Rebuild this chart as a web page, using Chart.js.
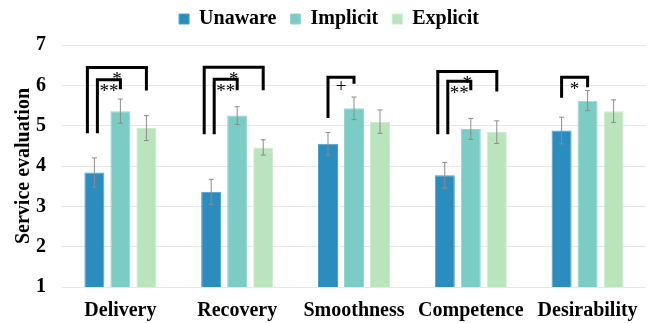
<!DOCTYPE html>
<html>
<head>
<meta charset="utf-8">
<script src="https://cdn.jsdelivr.net/npm/chart.js@4"></script>
<style>
  html, body { margin: 0; padding: 0; background: #fff; }
  #wrap { width: 652px; height: 323px; }
</style>
</head>
<body>
<div id="wrap"><canvas id="chart"></canvas></div>
<script>
const categories = ["Delivery", "Recovery", "Smoothness", "Competence", "Desirability"];
const seriesNames = ["Unaware", "Implicit", "Explicit"];
const unaware = [3.84, 3.36, 4.55, 3.77, 4.88];
const implicit = [5.36, 5.25, 5.43, 4.92, 5.62];
const explicit = [4.94, 4.46, 5.10, 4.84, 5.36];
const unawareErr = [0.36, 0.31, 0.28, 0.32, 0.33];
const implicitErr = [0.30, 0.22, 0.28, 0.26, 0.25];
const explicitErr = [0.31, 0.19, 0.29, 0.28, 0.28];
const yTicks = [1, 2, 3, 4, 5, 6, 7];

// significance brackets: category, series pair, top value, leg ends, label
const brackets = [
  { cat: 0, from: 0, to: 2, level: "outer", top: 6.44, leftEnd: 4.81, rightEnd: 5.87, label: "*" },
  { cat: 0, from: 0, to: 1, level: "inner", top: 6.14, leftEnd: 4.81, rightEnd: 5.90, label: "**" },
  { cat: 1, from: 0, to: 2, level: "outer", top: 6.45, leftEnd: 4.79, rightEnd: 5.88, label: "*" },
  { cat: 1, from: 0, to: 1, level: "inner", top: 6.15, leftEnd: 4.79, rightEnd: 5.88, label: "**" },
  { cat: 2, from: 0, to: 1, level: "single", top: 6.20, leftEnd: 5.19, rightEnd: 6.04, label: "+" },
  { cat: 3, from: 0, to: 2, level: "outer", top: 6.34, leftEnd: 4.79, rightEnd: 5.85, label: "*" },
  { cat: 3, from: 0, to: 1, level: "inner", top: 6.10, leftEnd: 4.79, rightEnd: 5.88, label: "**" },
  { cat: 4, from: 0, to: 1, level: "single", top: 6.20, leftEnd: 5.69, rightEnd: 5.95, label: "*" }
];

const colors = ["#2b8cbe", "#7bccc4", "#bae4bc"];
const edges = ["#4a9fcb", "#95d6cf", "#cdebcf"];
const values = [unaware, implicit, explicit];
const errors = [unawareErr, implicitErr, explicitErr];
const serif = "'Liberation Serif', 'Times New Roman', serif";

const errorBars = {
  id: "errorBars",
  afterDatasetsDraw(chart) {
    const ctx = chart.ctx;
    const y = chart.scales.y;
    ctx.save();
    ctx.strokeStyle = "#8c8c8c";
    ctx.lineWidth = 1;
    chart.data.datasets.forEach((ds, i) => {
      chart.getDatasetMeta(i).data.forEach((bar, j) => {
        const v = ds.data[j], e = errors[i][j];
        const top = y.getPixelForValue(v + e);
        const bot = y.getPixelForValue(v - e);
        ctx.beginPath();
        ctx.moveTo(bar.x, top); ctx.lineTo(bar.x, bot);
        ctx.moveTo(bar.x - 2.5, top); ctx.lineTo(bar.x + 2.5, top);
        ctx.moveTo(bar.x - 2.5, bot); ctx.lineTo(bar.x + 2.5, bot);
        ctx.stroke();
      });
    });
    ctx.restore();
  }
};

const sigBrackets = {
  id: "sigBrackets",
  afterDatasetsDraw(chart) {
    const ctx = chart.ctx;
    const y = chart.scales.y;
    const shift = { outer: -7, inner: 3, single: 0 };
    ctx.save();
    ctx.strokeStyle = "#000";
    ctx.fillStyle = "#000";
    ctx.lineWidth = 3;
    ctx.lineJoin = "miter";
    brackets.forEach(b => {
      const x1 = chart.getDatasetMeta(b.from).data[b.cat].x + shift[b.level];
      const x2 = chart.getDatasetMeta(b.to).data[b.cat].x;
      const yt = y.getPixelForValue(b.top);
      ctx.beginPath();
      ctx.moveTo(x1, y.getPixelForValue(b.leftEnd));
      ctx.lineTo(x1, yt);
      ctx.lineTo(x2, yt);
      ctx.lineTo(x2, y.getPixelForValue(b.rightEnd));
      ctx.stroke();

      ctx.font = "19px " + serif;
      ctx.textAlign = "center";
      ctx.textBaseline = "alphabetic";
      const m = ctx.measureText(b.label);
      const cy = yt + 8;
      const base = cy + (m.actualBoundingBoxAscent - m.actualBoundingBoxDescent) / 2;
      ctx.fillText(b.label, (x1 + x2) / 2, base);
    });
    ctx.restore();
  }
};

// legend padding is wide for item spacing, so pull it up and adjust its height
const legendGap = {
  id: "legendGap",
  beforeInit(chart) {
    const fit = chart.legend.fit;
    chart.legend.fit = function () {
      fit.call(this);
      this.height += 6;
    };
  }
};

new Chart(document.getElementById("chart"), {
  type: "bar",
  data: {
    labels: categories,
    datasets: seriesNames.map((name, i) => ({
      label: name,
      data: values[i],
      backgroundColor: colors[i],
      borderColor: edges[i],
      borderWidth: 1,
      categoryPercentage: 0.668,
      barPercentage: 0.77
    }))
  },
  options: {
    responsive: true,
    maintainAspectRatio: false,
    animation: false,
    layout: { padding: { left: 12, right: 6, top: -5, bottom: 0 } },
    plugins: {
      legend: {
        position: "top",
        labels: {
          boxWidth: 10,
          boxHeight: 10,
          padding: 14,
          color: "#000",
          font: { family: serif, size: 20, weight: "bold" }
        }
      },
      tooltip: { enabled: false }
    },
    scales: {
      x: {
        grid: { display: false, drawTicks: false },
        border: { display: false },
        afterFit(scale) { scale.height = 36; },
        ticks: {
          color: "#000",
          padding: 12,
          maxRotation: 0,
          font: { family: serif, size: 20, weight: "bold" }
        }
      },
      y: {
        min: 1,
        max: 7,
        afterBuildTicks(axis) { axis.ticks = yTicks.map(v => ({ value: v })); },
        afterFit(scale) { scale.width = 50; },
        grid: { color: "#e6e6e6", lineWidth: 1, drawTicks: false },
        border: { display: false },
        ticks: {
          color: "#000",
          padding: 16,
          font: { family: serif, size: 20, weight: "bold" }
        },
        title: {
          display: true,
          text: "Service evaluation",
          color: "#000",
          padding: { top: 0, bottom: 0 },
          font: { family: serif, size: 20, weight: "bold" }
        }
      }
    }
  },
  plugins: [legendGap, errorBars, sigBrackets]
});
</script>
</body>
</html>
